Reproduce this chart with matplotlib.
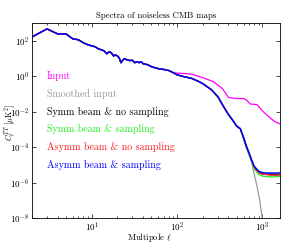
import matplotlib
matplotlib.use('Agg')
import matplotlib.pyplot as plt
import numpy as np

plt.rcParams['font.family'] = ['cmr10', 'DejaVu Serif']
plt.rcParams['mathtext.fontset'] = 'cm'
plt.rcParams['axes.formatter.use_mathtext'] = True
plt.rcParams['axes.unicode_minus'] = False

# low multipoles, identical for every map
ell_low = [2, 3, 4, 5, 6, 7, 8, 9, 10, 11, 12, 13, 14, 15, 16, 17, 18, 19, 20,
           21, 22, 23, 24, 25, 26, 28, 30, 32, 34, 36, 38, 40, 45, 50, 55, 60,
           70, 80, 90]
cl_low = [165, 470, 245, 245, 130, 114, 77, 60, 52, 46, 35, 31, 27, 18.6, 24,
          21, 14, 16, 14, 11, 5.8, 7.6, 9.8, 9, 8.5, 7.6, 8, 5.8, 6.6, 5.8, 6.6,
          5.1, 4.5, 3.5, 3.0, 2.7, 2.4, 2.1, 1.6]

# unsmoothed input
ell_in = [100, 130, 155, 200, 265, 340, 400, 450, 510, 600, 650, 720, 800,
          866, 950, 1000, 1135, 1250, 1420, 1600]
cl_in = [1.5, 1.4, 1.23, 0.83, 0.50, 0.20, 0.063, 0.058, 0.055, 0.055, 0.045,
         0.027, 0.026, 0.025, 0.0145, 0.011, 0.0062, 0.0042, 0.0026, 0.0021]

# beam smoothed part shared by the maps
ell_mid = [100, 120, 150, 180, 200, 250, 300, 350, 400, 450, 500, 550]
cl_mid = [1.2, 0.95, 0.74, 0.50, 0.38, 0.18, 0.071, 0.0195, 0.0069, 0.0032,
          0.0015, 0.0011]

ell_tail = [600, 650, 700, 750, 800, 900, 1000, 1200, 1400, 1600]
cl_symm_nosamp = [3.3e-4, 1.0e-4, 4.0e-5, 1.6e-5, 7.2e-6, 3.8e-6, 3.0e-6, 2.8e-6, 2.7e-6, 2.8e-6]
cl_symm_samp = [2.8e-4, 8.5e-5, 3.3e-5, 1.3e-5, 6.0e-6, 3.0e-6, 2.3e-6, 2.1e-6, 2.1e-6, 2.2e-6]
cl_asymm_nosamp = [3.3e-4, 1.0e-4, 4.1e-5, 1.6e-5, 7.3e-6, 3.8e-6, 3.0e-6, 2.7e-6, 2.6e-6, 2.7e-6]
cl_asymm_samp = [3.5e-4, 1.1e-4, 4.5e-5, 1.8e-5, 8.3e-6, 4.4e-6, 3.6e-6, 3.4e-6, 3.4e-6, 3.5e-6]

ell_smooth_tail = [600, 650, 700, 750, 790, 866, 930, 991, 1050]
cl_smooth_tail = [3.5e-4, 1.1e-4, 4.3e-5, 1.5e-5, 4e-6, 5.8e-7, 1e-7, 1e-8, 1e-9]

labels = ['Input', 'Smoothed input', 'Symm beam & no sampling',
          'Symm beam & sampling', 'Asymm beam & no sampling',
          'Asymm beam & sampling']
colors = [(1, 0, 1), (0.6, 0.6, 0.6), (0, 0, 0), (0.1, 0.95, 0.1),
          (1, 0.1, 0.1), (0, 0, 1)]


def series(tail_ell, tail_cl):
    return ell_low + ell_mid + tail_ell, cl_low + cl_mid + tail_cl


curves = [
    (ell_low + ell_in, cl_low + cl_in),
    series(ell_smooth_tail, cl_smooth_tail),
    series(ell_tail, cl_symm_nosamp),
    series(ell_tail, cl_symm_samp),
    series(ell_tail, cl_asymm_nosamp),
    series(ell_tail, cl_asymm_samp),
]

fig = plt.figure(figsize=(2.82, 2.43), dpi=100)
ax = fig.add_axes([0.1135, 0.103, 0.879, 0.802])

for (x, y), c in zip(curves, colors):
    ax.plot(x, y, color=c, lw=1.1 if c == (0, 0, 1) else 0.9)

ax.set_xscale('log')
ax.set_yscale('log')
ax.set_xlim(2, 1600)
ax.set_ylim(1e-8, 1e3)
ax.set_yticks([1e-8, 1e-6, 1e-4, 1e-2, 1e0, 1e2])
ax.yaxis.set_minor_locator(matplotlib.ticker.NullLocator())
ax.tick_params(which='both', direction='in', top=True, right=True,
               labelsize=6.5, width=0.5, pad=2)
ax.tick_params(which='major', length=3)
ax.tick_params(which='minor', length=1.5)
for s in ax.spines.values():
    s.set_linewidth(0.6)

# coloured labels stacked one per decade
for i, (lab, c) in enumerate(zip(labels, colors)):
    ax.text(3, 10.0 ** (-i), lab, color=c, fontsize=7.2, va='center', ha='left')

ax.set_title('Spectra of noiseless CMB maps', fontsize=6.3, pad=4)
ax.set_xlabel(r'Multipole $\ell$', fontsize=6.3)
ax.set_ylabel(r'$C_\ell^{TT}$ [$\mu$K$^2$]', fontsize=5.8)
ax.xaxis.set_label_coords(0.475, -0.065)
ax.yaxis.set_label_coords(-0.058, 0.49)

fig.savefig('out.png', dpi=100)
